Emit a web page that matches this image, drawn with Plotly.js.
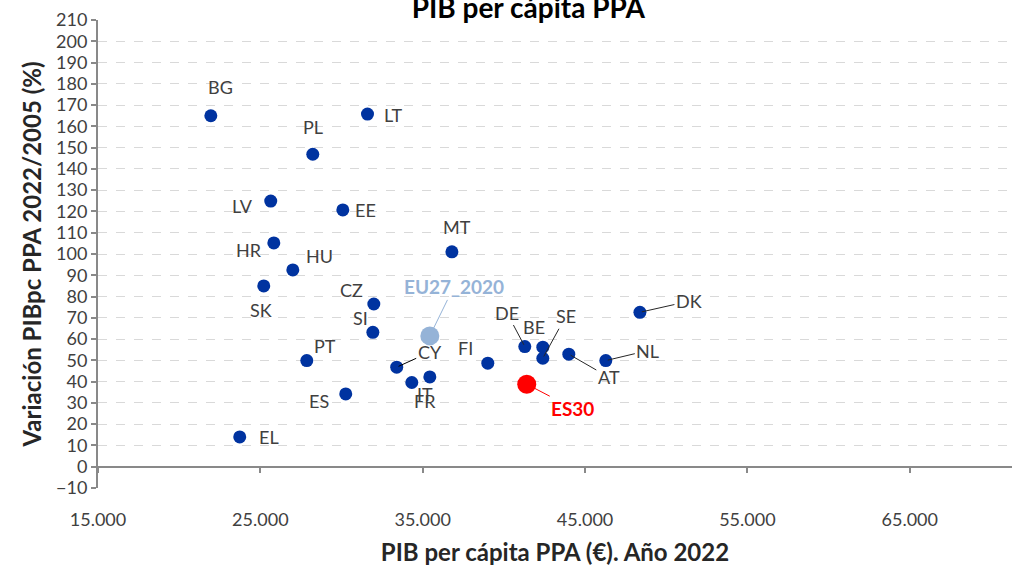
<!DOCTYPE html>
<html>
<head>
<meta charset="utf-8">
<script src="https://cdn.plot.ly/plotly-3.0.1.min.js"></script>
<style>html,body{margin:0;padding:0;background:#fff;}#chart{width:1012px;height:567px;}</style>
</head>
<body>
<div id="chart"></div>
<script>
// ---- data ----
const countries = ['BG','LT','PL','LV','EE','HR','HU','MT','SK','CZ','SI','PT','CY','IT','FR','ES','FI','DE','BE','SE','AT','NL','DK','EL'];
const gdpPPA2022 = [21950,31600,28230,25640,30080,25830,27000,36800,25210,31990,31930,27860,33400,34330,35440,30260,39010,41290,42400,42400,44000,46280,48380,23730];
const growth2005_2022 = [165.0,165.8,146.9,124.9,120.7,105.2,92.5,101.0,85.0,76.5,63.2,49.9,46.8,39.6,42.2,34.2,48.7,56.5,56.2,51.0,52.9,49.9,72.6,14.0];

const euLabel = ['EU27_2020'];
const euGdp = [35440];
const euGrowth = [61.5];

const esLabel = ['ES30'];
const esGdp = [41410];
const esGrowth = [38.8];

const xTickVals = [15000,25000,35000,45000,55000,65000];
const xTickText = ['15.000','25.000','35.000','45.000','55.000','65.000'];

// ---- label placement (pixel offsets of the text from its point; leader = line drawn) ----
const labelOffset = {
  BG:[10,-29], LT:[26,1], PL:[0,-27], LV:[-28,5], EE:[23,0], HR:[-25,7], HU:[27,-14],
  MT:[5,-25], SK:[-3,24], CZ:[-22,-14], SI:[-12,-14], PT:[18,-15], CY:[33,-15],
  IT:[13,12], FR:[-5,24], ES:[-27,7], FI:[-22,-15], DE:[-18,-34], BE:[-9,-20],
  SE:[23,-42], AT:[40,23], NL:[42,-10], DK:[49,-11], EL:[29,0],
  EU27_2020:[24,-49], ES30:[46,24]
};
const withLeader = {CY:'#000000', DE:'#262626', SE:'#262626', AT:'#262626', NL:'#262626', DK:'#262626', EU27_2020:'#95b3d7', ES30:'#ff0000'};

const FONT = 'Lato, "Open Sans", sans-serif';
const TXT = '#404040';

function makeAnn(label, x, y, color, bold) {
  const off = labelOffset[label];
  const txt = bold ? '<b>' + label + '</b>' : label;
  const base = {x: x, y: y, xref: 'x', yref: 'y', text: txt,
    font: {family: FONT, size: bold ? 19 : 18, color: color}};
  if (withLeader[label]) {
    return Object.assign(base, {showarrow: true, ax: off[0], ay: off[1], arrowhead: 0,
      arrowwidth: 1, arrowcolor: withLeader[label], standoff: 2});
  }
  return Object.assign(base, {showarrow: false, xshift: off[0], yshift: -off[1]});
}

const annotations = [];
countries.forEach((c, i) => annotations.push(makeAnn(c, gdpPPA2022[i], growth2005_2022[i], TXT, false)));
annotations.push(makeAnn(euLabel[0], euGdp[0], euGrowth[0], '#95b3d7', true));
annotations.push(makeAnn(esLabel[0], esGdp[0], esGrowth[0], '#ff0000', true));

const traces = [
  {x: gdpPPA2022, y: growth2005_2022, text: countries, type: 'scatter', mode: 'markers',
   marker: {color: '#0033a0', size: 13}, hoverinfo: 'text+x+y'},
  {x: euGdp, y: euGrowth, text: euLabel, type: 'scatter', mode: 'markers',
   marker: {color: '#95b3d7', size: 19}, hoverinfo: 'text+x+y'},
  {x: esGdp, y: esGrowth, text: esLabel, type: 'scatter', mode: 'markers',
   marker: {color: '#ff0000', size: 19}, hoverinfo: 'text+x+y'},
  // invisible helper so the axis that crosses at y=0 is drawn
  {x: gdpPPA2022, y: growth2005_2022, type: 'scatter', mode: 'markers', xaxis: 'x2',
   marker: {opacity: 0}, hoverinfo: 'skip'}
];

const xRange = [15000, 71300];

const layout = {
  width: 1012, height: 567,
  margin: {l: 98, r: 0, t: 20, b: 79},
  paper_bgcolor: '#ffffff', plot_bgcolor: '#ffffff',
  showlegend: false,
  font: {family: FONT, color: TXT},
  title: {text: '<b>PIB per cápita PPA</b>', font: {family: FONT, size: 28, color: '#000000'},
          x: 0.522, xanchor: 'center', y: 0.986, yanchor: 'middle', yref: 'container'},
  xaxis: {range: xRange, tickvals: xTickVals, ticktext: xTickText, showgrid: false,
          zeroline: false, showline: false, ticks: '', ticklabelstandoff: 19,
          tickfont: {family: FONT, size: 18, color: TXT},
          title: {text: '<b>PIB per cápita PPA (€). Año 2022</b>', font: {family: FONT, size: 24, color: '#262626'}, standoff: 15}},
  xaxis2: {range: xRange, overlaying: 'x', anchor: 'free', position: 10/220,
           tickvals: xTickVals, showticklabels: false, ticks: 'outside', ticklen: 5,
           tickwidth: 2, tickcolor: '#898989', showline: true, linecolor: '#898989',
           linewidth: 2, showgrid: false, zeroline: false},
  yaxis: {range: [-10, 210], dtick: 10, tick0: 0, showgrid: true, gridcolor: '#d9d9d9',
          griddash: 'dash', gridwidth: 1, zeroline: false, showline: true,
          linecolor: '#898989', linewidth: 2, ticks: 'outside', ticklen: 5, tickwidth: 2,
          tickcolor: '#898989', tickfont: {family: FONT, size: 18, color: TXT},
          title: {text: '<b>Variación PIBpc PPA 2022/2005 (%)</b>', font: {family: FONT, size: 24, color: '#262626'}, standoff: 8}},
  annotations: annotations
};

Plotly.newPlot('chart', traces, layout, {displayModeBar: false, staticPlot: true});
</script>
</body>
</html>
